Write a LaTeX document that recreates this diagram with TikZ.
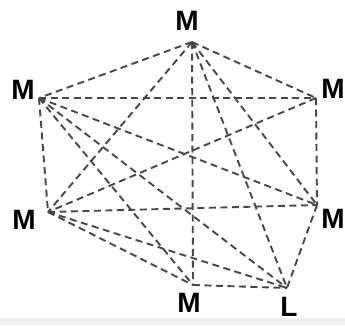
\documentclass[tikz,border=0pt]{standalone}
\usepackage{fontspec}
\setmainfont{Liberation Sans}
\usetikzlibrary{positioning}
\begin{document}
\begin{tikzpicture}[x=1pt,y=-1pt,
  lab/.style={font=\bfseries\fontsize{28}{28}\selectfont,inner sep=0pt},
  edge/.style={dash pattern=on 7pt off 4.5pt,line width=1.9pt,black!72}]
  \useasboundingbox (0,0) rectangle (345,325);
  \fill[black!5] (0,318) rectangle (345,325);
  % vertices of the cluster
  \coordinate (t) at (192,42);  \coordinate (lu) at (39,98);  \coordinate (ru) at (316,98);
  \coordinate (ll) at (48,212); \coordinate (rl) at (317,205);
  \coordinate (b) at (193,285); \coordinate (l) at (287,288);
  % atom labels
  \node[lab] (mt) at (187,21) {M};  \node[lab] (mlu) at (23,90) {M};  \node[lab] (mru) at (333,89) {M};
  \node[lab] (mll) at (24,220) {M}; \node[lab] (mrl) at (333,219) {M};
  \node[lab] (mb) at (189,303) {M}; \node[lab] (ml) at (289,307) {L};
  % edges
  \foreach \a/\b in {t/lu,t/ru,t/ll,t/b,t/rl,t/l,lu/ru,lu/ll,lu/rl,lu/b,lu/l,
                     ru/ll,ru/rl,ll/rl,ll/b,ll/l,rl/l,b/l}
    \draw[edge] (\a) -- (\b);
\end{tikzpicture}
\end{document}
